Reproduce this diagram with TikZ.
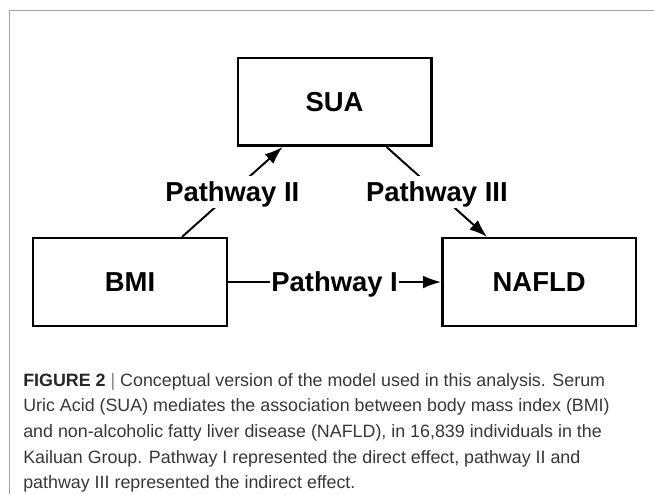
\documentclass[tikz,border=0pt]{standalone}
\usepackage{fontspec}
\setmainfont{Liberation Sans}
\usepackage{xcolor}
\usetikzlibrary{arrows.meta, calc, positioning}
\definecolor{framegray}{RGB}{160,160,160}
\definecolor{captext}{RGB}{55,55,55}

\begin{document}
\begin{tikzpicture}[node distance=1.8cm]
\tikzstyle{var} = [rectangle, minimum width=4.84cm, minimum height=2.19cm, text centered, draw=black, line width=1.8pt, font=\fontsize{19.5}{22}\selectfont\bfseries]
\tikzstyle{pathlabel} = [fill=white, inner xsep=1pt, inner ysep=4.5pt, text depth=0pt, font=\fontsize{19.5}{22}\selectfont\bfseries]
\tikzstyle{arrow} = [line width=1.4pt, -{Latex[length=4.5mm,width=3.2mm]}]

% Page size and frame
\useasboundingbox (0,0) rectangle (16.35,-12.35);
\draw[framegray, line width=0.7pt] (0.2375,-12.35) -- (0.2375,-0.25) -- (16.35,-0.25);

% Variable Nodes
\node (bmi) [var] at (3.25,-7.05) {BMI};
\node (nafld) [var, right=5.325cm of bmi] {NAFLD};
\coordinate (mid) at ($(bmi.north)!0.5!(nafld.north)$);
\node (sua) [var, above=2.25cm of mid] {SUA};

% Direct Path
\draw [arrow] (bmi) -- node[pathlabel] {Pathway I} (nafld);

% Indirect Paths (via SUA)
\draw [arrow] ($(bmi.north west)!0.765!(bmi.north east)$) -- node[pathlabel] {Pathway II} ($(sua.south west)!0.235!(sua.south east)$);
\draw [arrow] ($(sua.south west)!0.765!(sua.south east)$) -- node[pathlabel] {Pathway III} ($(nafld.north west)!0.235!(nafld.north east)$);

% Caption
\node (caption) [anchor=north west, align=left, inner sep=0pt, text=captext, font=\fontsize{12.7}{18.3}\selectfont] at (0.575,-9.32) {{\bfseries\color{black!85}FIGURE 2} {\color{gray}|} Conceptual version of the model used in this analysis. Serum\\
Uric Acid (SUA) mediates the association between body mass index (BMI)\\
and non-alcoholic fatty liver disease (NAFLD), in 16,839 individuals in the\\
Kailuan Group. Pathway I represented the direct effect, pathway II and\\
pathway III represented the indirect effect.};

\end{tikzpicture}
\end{document}
